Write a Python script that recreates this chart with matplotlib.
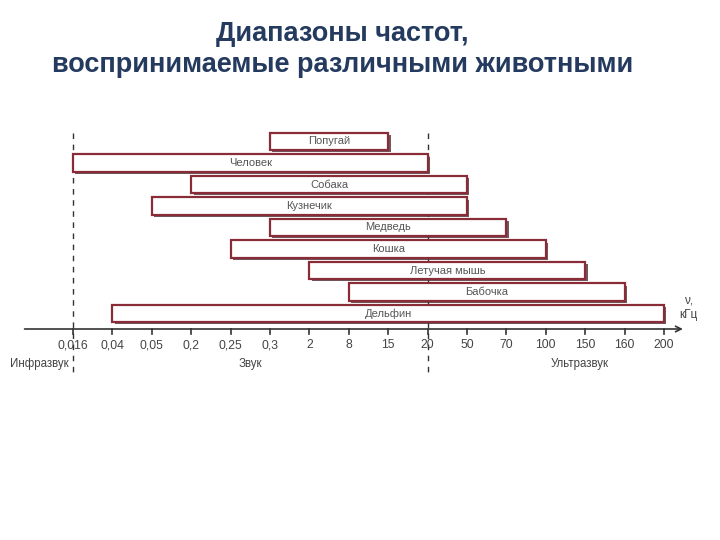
import matplotlib.pyplot as plt
from matplotlib.patches import Rectangle

plt.rcParams['font.family'] = ['Liberation Sans', 'DejaVu Sans']

ticks = ['0,016', '0,04', '0,05', '0,2', '0,25', '0,3', '2', '8', '15', '20',
         '50', '70', '100', '150', '160', '200']
animals = ['Попугай', 'Человек', 'Собака', 'Кузнечик', 'Медведь', 'Кошка',
           'Летучая мышь', 'Бабочка', 'Дельфин']
low = ['0,3', '0,016', '0,2', '0,05', '0,3', '0,25', '2', '8', '0,04']
high = ['15', '20', '50', '50', '70', '100', '150', '160', '200']
zones = ['Инфразвук', 'Звук', 'Ультразвук']

fig = plt.figure(figsize=(7.2, 5.4), dpi=100)
ax = fig.add_axes([0, 0, 1, 1])
# x: one unit per tick (39.4 px), y: one unit per row (21.5 px), rows go down
ax.set_xlim(-73 / 39.4, (720 - 73) / 39.4)
ax.set_ylim((540 - 141.5) / 21.5, -141.5 / 21.5)
ax.axis('off')

red = '#8a2c38'
h = 0.8
for row, (name, a, b) in enumerate(zip(animals, low, high)):
    x0 = ticks.index(a)
    x1 = ticks.index(b)
    # shadow
    ax.add_patch(Rectangle((x0 + 0.06, row - h / 2 + 0.1), x1 - x0, h,
                           facecolor='#6e5a5d', edgecolor='none', zorder=2))
    ax.add_patch(Rectangle((x0, row - h / 2), x1 - x0, h,
                           facecolor='white', edgecolor=red, lw=1.6, zorder=3))
    ax.text((x0 + x1) / 2, row, name, ha='center', va='center',
            fontsize=8, color='#555555', zorder=4)

axis_y = (329 - 141.5) / 21.5
ax.annotate('', xy=(15.55, axis_y), xytext=(-1.3, axis_y),
            arrowprops=dict(arrowstyle='->', color='#333333', lw=1.2))
for i, t in enumerate(ticks):
    ax.plot([i, i], [axis_y, axis_y + 0.25], color='#333333', lw=1.2)
    ax.text(i, axis_y + 0.75, t, ha='center', va='center', fontsize=8.8,
            color='#444444')
ax.text(15.62, axis_y - 1.0, 'ν,\nкГц', ha='center', va='center', fontsize=8.5,
        color='#444444', linespacing=1.3)

for i in [0, 9]:
    ax.plot([i, i], [-0.4, axis_y + 2.0], color='#333333', lw=1.0,
            ls=(0, (4, 4)))

zone_y = axis_y + 1.65
ax.text(-0.1, zone_y, zones[0], ha='right', va='center', fontsize=8.3, color='#444444')
ax.text(4.5, zone_y, zones[1], ha='center', va='center', fontsize=8.3, color='#444444')
ax.text(12.85, zone_y, zones[2], ha='center', va='center', fontsize=8.3, color='#444444')

fig.text(0.476, 0.937, 'Диапазоны частот,', ha='center', va='center',
         fontsize=19.5, fontweight='bold', color='#243a5e')
fig.text(0.476, 0.879, 'воспринимаемые различными животными', ha='center',
         va='center', fontsize=19.5, fontweight='bold', color='#243a5e')

fig.savefig('out.png', dpi=100)
